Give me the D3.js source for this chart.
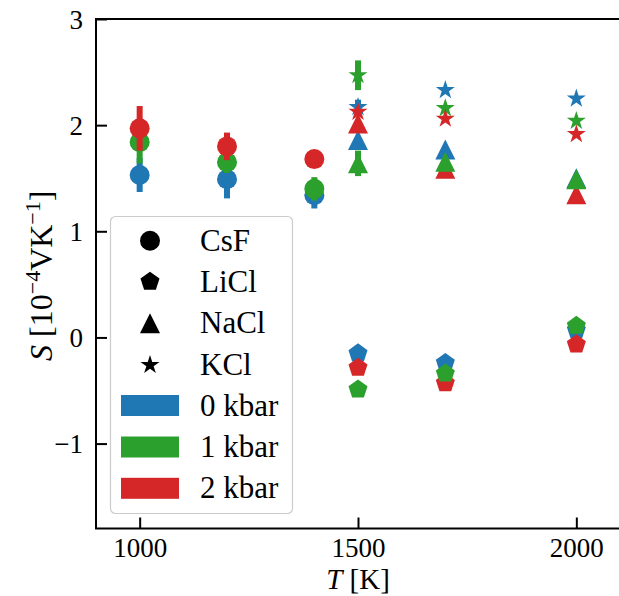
<!DOCTYPE html>
<html>
<head>
<meta charset="utf-8">
<script src="https://cdn.jsdelivr.net/npm/d3@7"></script>
<style>
  html, body { margin: 0; padding: 0; background: #fff; }
  svg { display: block; }
  text { font-family: "Liberation Serif", "DejaVu Serif", serif; fill: #000; }
</style>
</head>
<body>
<svg id="chart" width="619" height="596"></svg>
<script>
// ---------------- data ----------------
const pressures = ["0 kbar", "1 kbar", "2 kbar"];
const colors = ["#1f77b4", "#2ca02c", "#d62728"];
const salts = ["CsF", "LiCl", "NaCl", "KCl"];
const saltShapes = ["circle", "pentagon", "triangle", "star"];

const csfT = [1000, 1200, 1400];
const csfS = [[1.53, 1.49, 1.34], [1.84, 1.65, 1.40], [1.97, 1.80, 1.68]];
const csfErr = [[0.16, 0.18, 0.125], [0.20, 0.10, 0.11], [0.21, 0.13, 0.04]];

const liclT = [1500, 1700, 2000];
const liclS = [[-0.15, -0.24, 0.07], [-0.49, -0.34, 0.11], [-0.285, -0.43, -0.065]];
const liclErr = [[0, 0, 0], [0, 0, 0], [0, 0, 0]];

const naclT = [1500, 1700, 2000];
const naclS = [[1.86, 1.77, 1.50], [1.64, 1.655, 1.49], [2.015, 1.59, 1.35]];
const naclErr = [[0, 0, 0.03], [0.12, 0, 0], [0, 0, 0]];

const kclT = [1500, 1700, 2000];
const kclS = [[2.17, 2.33, 2.25], [2.47, 2.16, 2.04], [2.125, 2.06, 1.915]];
const kclErr = [[0.07, 0, 0], [0.14, 0, 0], [0, 0, 0]];

const xTicks = [1000, 1500, 2000];
const yTicks = [-1, 0, 1, 2, 3];

// drawing order of the pressure series for each salt
const saltOrder = [[0, 1, 2], [0, 2, 1], [0, 2, 1], [0, 1, 2]];

const saltData = [
  {T: csfT, S: csfS, E: csfErr},
  {T: liclT, S: liclS, E: liclErr},
  {T: naclT, S: naclS, E: naclErr},
  {T: kclT, S: kclS, E: kclErr}
];

// ---------------- layout ----------------
const svg = d3.select("#chart");
const pL = 96, pR = 620, pT = 19, pB = 528.5;
const x = d3.scaleLinear().domain([900, 2100]).range([pL, pR]);
const y = d3.scaleLinear().domain([-1.8, 3]).range([pB, pT]);

const MS = 20;
function markerPath(shape, size) {
  const r = size / 2;
  if (shape === "circle") {
    const p = d3.path(); p.moveTo(r, 0); p.arc(0, 0, r, 0, 2 * Math.PI); p.closePath(); return p.toString();
  }
  if (shape === "triangle") {
    return `M0,${-r}L${-r},${r}L${r},${r}Z`;
  }
  if (shape === "pentagon") {
    const pts = d3.range(5).map(k => {
      const a = -Math.PI / 2 + k * 2 * Math.PI / 5;
      return [r * Math.cos(a), r * Math.sin(a)];
    });
    return "M" + pts.map(p => p.join(",")).join("L") + "Z";
  }
  if (shape === "star") {
    const ri = r * 0.381966;
    const pts = d3.range(10).map(k => {
      const a = -Math.PI / 2 + k * Math.PI / 5;
      const rr = k % 2 === 0 ? r : ri;
      return [rr * Math.cos(a), rr * Math.sin(a)];
    });
    return "M" + pts.map(p => p.join(",")).join("L") + "Z";
  }
}

// ---------------- axes ----------------
const yAxis = d3.axisLeft(y).tickValues(yTicks).tickSizeInner(-11).tickSizeOuter(0).tickPadding(13)
  .tickFormat(d => d < 0 ? "\u2212" + Math.abs(d) : String(d));
const gy = svg.append("g").attr("transform", `translate(${pL},0)`).call(yAxis);
gy.select(".domain").remove();
gy.selectAll(".tick line").attr("stroke", "#000").attr("stroke-width", 2);
gy.selectAll(".tick text").attr("font-size", 27).attr("font-family", "Liberation Serif").attr("dy", "0.34em");

const xAxis = d3.axisBottom(x).tickValues(xTicks).tickSizeInner(-11).tickSizeOuter(0).tickPadding(9)
  .tickFormat(d3.format("d"));
const gx = svg.append("g").attr("transform", `translate(0,${pB})`).call(xAxis);
gx.select(".domain").remove();
gx.selectAll(".tick line").attr("stroke", "#000").attr("stroke-width", 2);
gx.selectAll(".tick text").attr("font-size", 27).attr("font-family", "Liberation Serif");

// frame
svg.append("rect").attr("x", pL).attr("y", pT).attr("width", pR - pL).attr("height", pB - pT)
  .attr("fill", "none").attr("stroke", "#000").attr("stroke-width", 2);

// ---------------- data marks ----------------
const gData = svg.append("g");
saltData.forEach((sd, si) => {
  saltOrder[si].forEach(pi => {
    const g = gData.append("g");
    sd.T.forEach((t, i) => {
      const v = sd.S[pi][i], e = sd.E[pi][i];
      if (e > 0) {
        g.append("line").attr("x1", x(t)).attr("x2", x(t)).attr("y1", y(v - e)).attr("y2", y(v + e))
          .attr("stroke", colors[pi]).attr("stroke-width", 6);
      }
      g.append("path").attr("d", markerPath(saltShapes[si], MS))
        .attr("transform", `translate(${x(t)},${y(v)})`).attr("fill", colors[pi]);
    });
  });
});

// ---------------- labels ----------------
const xl = svg.append("text").attr("x", (pL + pR) / 2).attr("y", 589).attr("text-anchor", "middle").attr("font-size", 29);
xl.append("tspan").attr("font-style", "italic").text("T");
xl.append("tspan").text(" [K]");

const yl = svg.append("text").attr("transform", `translate(52,${(pT + pB) / 2 + 2}) rotate(-90)`)
  .attr("text-anchor", "middle").attr("font-size", 32);
yl.append("tspan").attr("font-style", "italic").text("S");
yl.append("tspan").text(" [10");
yl.append("tspan").attr("font-size", 22).attr("dy", -12).text("\u22124");
yl.append("tspan").attr("dy", 12).text("VK");
yl.append("tspan").attr("font-size", 22).attr("dy", -12).text("\u22121");
yl.append("tspan").attr("dy", 12).text("]");

// ---------------- legend ----------------
const lg = svg.append("g");
lg.append("rect").attr("x", 110.5).attr("y", 216.5).attr("width", 182).attr("height", 297).attr("rx", 5)
  .attr("fill", "#fff").attr("fill-opacity", 0.8).attr("stroke", "#cccccc").attr("stroke-width", 1.2);
const rowY = [240.7, 281.7, 323.3, 365, 405.5, 447, 488.3];
salts.forEach((s, i) => {
  lg.append("path").attr("d", markerPath(saltShapes[i], MS)).attr("transform", `translate(150,${rowY[i]})`).attr("fill", "#000");
  lg.append("text").attr("x", 200).attr("y", rowY[i] + 10).attr("font-size", 31).text(s);
});
pressures.forEach((p, j) => {
  const yy = rowY[4 + j];
  lg.append("rect").attr("x", 121).attr("y", yy - 10.5).attr("width", 58).attr("height", 21).attr("fill", colors[j]);
  lg.append("text").attr("x", 200).attr("y", yy + 10).attr("font-size", 31).text(p);
});
</script>
</body>
</html>
